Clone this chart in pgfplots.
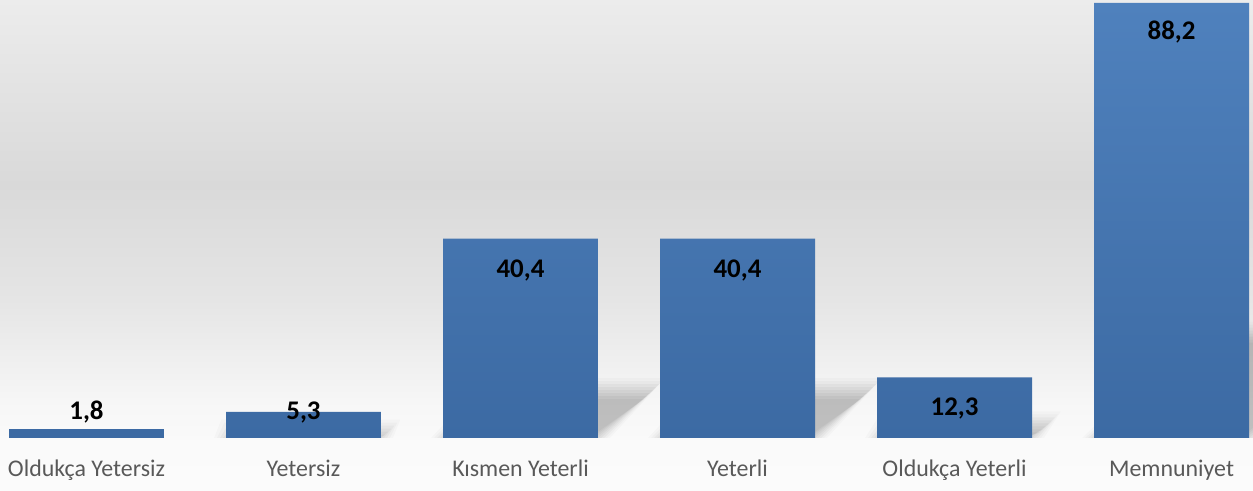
\documentclass[border=0pt]{standalone}
\usepackage{pgfplots}
\pgfplotsset{compat=1.18}
\usepackage{fontspec}
\setmainfont{Carlito}
\definecolor{barTop}{HTML}{4F81BD}
\definecolor{barBot}{HTML}{3C6AA3}
\definecolor{tickgray}{HTML}{595959}
\definecolor{bgA}{HTML}{ECECEC}
\definecolor{bgB}{HTML}{D9D9D9}
\definecolor{bgC}{HTML}{E5E5E5}
\definecolor{bgD}{HTML}{F6F6F6}
\definecolor{bgE}{HTML}{FAFAFA}
\definecolor{bgF}{HTML}{FBFBFB}
\pgfdeclareverticalshading{bgshade}{100bp}{%
  color(0bp)=(bgF); color(25bp)=(bgF); color(30.19bp)=(bgE); color(34.27bp)=(bgD);
  color(44.45bp)=(bgC); color(56.16bp)=(bgB); color(75bp)=(bgA); color(100bp)=(bgA)}
% decorative soft shadow behind a bar: #1 = x position, #2 = value
\newcommand{\shlayer}[4]{%
  \fill[black,opacity=#4] (axis cs:{#1-0.357-#3/217},0) -- (axis cs:{#1+0.357+#3/217},0)
    -- (axis cs:{#1+0.357+0.00628*#2+#3/217},{0.24*#2+#3/4.932})
    -- (axis cs:{#1-0.357+0.00628*#2-#3/217},{0.24*#2+#3/4.932}) -- cycle;}
\newcommand{\barshadow}[2]{%
  \shlayer{#1}{#2}{12}{0.02}\shlayer{#1}{#2}{9}{0.025}\shlayer{#1}{#2}{6}{0.03}%
  \shlayer{#1}{#2}{3}{0.03}\shlayer{#1}{#2}{0}{0.035}\shlayer{#1}{#2}{-3}{0.035}%
  \shlayer{#1}{#2}{-6}{0.035}\shlayer{#1}{#2}{-9}{0.035}}
\pgfplotstableread{
x y
0 1.8
1 5.3
2 40.4
3 40.4
4 12.3
5 88.2
}\bars
\pgfplotstableread{
x y lab
0 3.79 1,8
1 3.79 5,3
2 32.64 40,4
3 32.64 40,4
4 4.66 12,3
5 80.84 88,2
}\labels
\begin{document}
\begin{tikzpicture}[x=1bp,y=1bp]
\shade[shading=bgshade] (0,-53) rectangle (1253,438);
\begin{axis}[
  at={(0,0)}, anchor=south west,
  scale only axis, width=1253bp, height=438bp,
  xmin=-0.3986, xmax=5.3756, ymin=0, ymax=88.81,
  axis line style={draw=none},
  major tick length=0pt, tick style={draw=none},
  ytick=\empty,
  xtick={0,1,2,3,4,5},
  xticklabels={Oldukça Yetersiz, Yetersiz, Kısmen Yeterli, Yeterli, Oldukça Yeterli, Memnuniyet},
  xticklabel style={font=\fontsize{24}{24}\selectfont, text=tickgray, anchor=base, yshift=-39bp},
]
\barshadow{1}{5.3}
\barshadow{2}{40.4}
\barshadow{3}{40.4}
\barshadow{4}{12.3}
\barshadow{5}{88.2}
\addplot[ybar, bar width=0.714, draw=none, top color=barTop, bottom color=barBot] table[x=x,y=y] {\bars};
\addplot[draw=none, mark=none, point meta=explicit symbolic, nodes near coords,
  every node near coord/.style={anchor=base, font=\bfseries\fontsize{27}{27}\selectfont, text=black, inner sep=0pt}]
  table[x=x,y=y,meta=lab] {\labels};
\end{axis}
\pgfresetboundingbox
\useasboundingbox (0,-53) rectangle (1253,438);
\end{tikzpicture}
\end{document}
